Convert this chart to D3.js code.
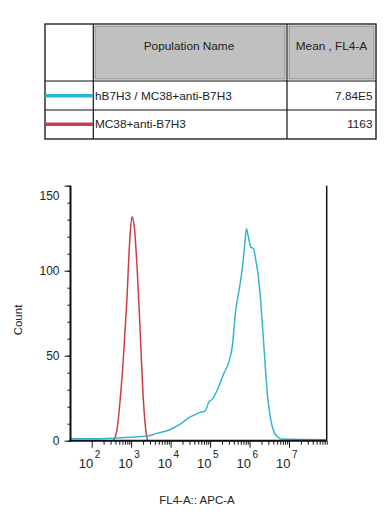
<!DOCTYPE html>
<html><head><meta charset="utf-8">
<script src="https://cdn.jsdelivr.net/npm/d3@7"></script>
<style>body{margin:0;background:#fff;} svg{display:block;font-family:"Liberation Sans",Arial,sans-serif;}</style>
</head><body><svg id="c" width="390" height="528"></svg>
<script>
// ---- data ----
const populations = ["hB7H3 / MC38+anti-B7H3", "MC38+anti-B7H3"];
const meanValues = ["7.84E5", "1163"];
const headerLabels = ["Population Name", "Mean , FL4-A"];

// histogram 1 (cyan): x as decade exponent of FL4-A, y as count
const cyanExp   = [1.46, 2.21, 2.98, 3.40, 3.65, 3.99, 4.25, 4.33, 4.50, 4.59, 4.76, 4.88, 4.97, 5.05, 5.18, 5.35, 5.48, 5.56, 5.65, 5.73, 5.82, 5.88, 5.92, 5.97, 6.03, 6.10, 6.16, 6.21, 6.28, 6.37, 6.45, 6.54, 6.62, 6.71, 6.79, 7.95];
const cyanCount = [1.2, 1.2, 2, 2.8, 4.3, 6.6, 9.9, 11.2, 14, 15, 16.8, 17.6, 22.8, 24.3, 29.7, 39.6, 46.5, 55, 76.7, 88, 102, 116, 124.7, 120, 114, 113, 106, 99, 82.6, 53.5, 27.7, 12, 5.2, 2.4, 1, 0.6];

// histogram 2 (red)
const redExp   = [2.55, 2.64, 2.72, 2.80, 2.89, 2.96, 3.02, 3.08, 3.15, 3.23, 3.31, 3.38, 3.42, 6.80];
const redCount = [0, 6.2, 23.8, 47.5, 82, 116, 131.7, 125.7, 102, 63.4, 23.8, 4.5, 0, 0];

const yMajor = [0, 50, 100, 150];
const yMinor = d3.range(0, 151, 10);
const xMajorExp = [2, 3, 4, 5, 6, 7];

const cyanColor = "#33b6cf", redColor = "#cf3a48";
const legendCyan = "#27b6d9", legendRed = "#c7414b";

// ---- chart ----
(function () {
const svg = d3.select("#c");

// table
const T = {x0: 45, x1: 93.3, x2: 287, x3: 376, y0: 24, y1: 81, y2: 110, y3: 139};
const tg = svg.append("g");
tg.append("rect").attr("x", 95).attr("y", 26).attr("width", 190).attr("height", 53)
  .attr("fill", "#c0c0c0").attr("stroke", "#8a8a8a").attr("stroke-width", 1);
tg.append("rect").attr("x", 289).attr("y", 26).attr("width", 85).attr("height", 53)
  .attr("fill", "#c0c0c0").attr("stroke", "#8a8a8a").attr("stroke-width", 1);
tg.append("rect").attr("x", T.x0).attr("y", T.y0).attr("width", T.x3 - T.x0).attr("height", T.y3 - T.y0)
  .attr("fill", "none").attr("stroke", "#111").attr("stroke-width", 1.3);
[[T.x1, T.y0, T.x1, T.y3], [T.x2, T.y0, T.x2, T.y3], [T.x0, T.y1, T.x3, T.y1], [T.x0, T.y2, T.x3, T.y2]]
  .forEach(l => tg.append("line").attr("x1", l[0]).attr("y1", l[1]).attr("x2", l[2]).attr("y2", l[3])
    .attr("stroke", "#111").attr("stroke-width", 1.2));
tg.append("text").attr("x", 189).attr("y", 50).attr("text-anchor", "middle")
  .attr("font-size", 11.8).attr("fill", "#222").text(headerLabels[0]);
tg.append("text").attr("x", 331.5).attr("y", 50).attr("text-anchor", "middle")
  .attr("font-size", 11.8).attr("fill", "#222").text(headerLabels[1]);
const rowY = [95.7, 124.3];
const legendColors = [legendCyan, legendRed];
populations.forEach((p, i) => {
  tg.append("line").attr("x1", T.x0).attr("x2", T.x1).attr("y1", rowY[i]).attr("y2", rowY[i])
    .attr("stroke", legendColors[i]).attr("stroke-width", 3.5);
  tg.append("text").attr("x", 95).attr("y", rowY[i] + 4).attr("font-size", 11.8).attr("fill", "#222").text(p);
  tg.append("text").attr("x", 372.5).attr("y", rowY[i] + 4).attr("text-anchor", "end")
    .attr("font-size", 11.8).attr("fill", "#222").text(meanValues[i]);
});

// plot
const pL = 70.5, pR = 326.7, pT = 185.7, pB = 440.7;
const x = d3.scaleLog().domain([Math.pow(10, 1.463), Math.pow(10, 7.955)]).range([pL, pR]);
const y = d3.scaleLinear().domain([0, 150]).range([pB, pT]);

const line = d3.line().x(d => x(Math.pow(10, d[0]))).y(d => y(d[1])).curve(d3.curveMonotoneX);
svg.append("path").datum(redExp.map((e, i) => [e, redCount[i]]))
  .attr("d", line).attr("fill", "none").attr("stroke", redColor).attr("stroke-width", 1.5);
svg.append("path").datum(cyanExp.map((e, i) => [e, cyanCount[i]]))
  .attr("d", line).attr("fill", "none").attr("stroke", cyanColor).attr("stroke-width", 1.5);

// y axis
const yMinAx = svg.append("g").attr("transform", `translate(${pL},0)`)
  .call(d3.axisLeft(y).tickValues(yMinor).tickSize(3).tickFormat(""));
const yMajAx = svg.append("g").attr("transform", `translate(${pL},0)`)
  .call(d3.axisLeft(y).tickValues(yMajor).tickSize(6).tickPadding(5).tickFormat(d3.format("d")));
[yMinAx, yMajAx].forEach(g => { g.select(".domain").remove(); g.selectAll("line").attr("stroke", "#111"); });
yMajAx.selectAll("text").attr("font-size", 12).attr("fill", "#222").attr("font-family", '"Liberation Sans",Arial,sans-serif')
  .attr("dy", d => d === 150 ? "1.15em" : "0.32em");

// x axis
const xMinorVals = [];
xMajorExp.forEach(e => d3.range(2, 10).forEach(k => xMinorVals.push(k * Math.pow(10, e))));
const xMinAx = svg.append("g").attr("transform", `translate(0,${pB})`)
  .call(d3.axisBottom(x).tickValues(xMinorVals).tickSize(4).tickFormat(""));
const xMajAx = svg.append("g").attr("transform", `translate(0,${pB})`)
  .call(d3.axisBottom(x).tickValues(xMajorExp.map(e => Math.pow(10, e))).tickSize(7).tickFormat(""));
[xMinAx, xMajAx].forEach(g => { g.select(".domain").remove(); g.selectAll("line").attr("stroke", "#111"); });
xMajorExp.forEach(e => {
  const px = x(Math.pow(10, e));
  svg.append("text").attr("x", px + 1.5).attr("y", 468).attr("text-anchor", "end")
    .attr("font-size", 13).attr("fill", "#222").text("10");
  svg.append("text").attr("x", px + 3).attr("y", 458).attr("font-size", 10).attr("fill", "#222").text(String(e));
});

// axis lines
svg.append("line").attr("x1", pL).attr("x2", pL).attr("y1", pT).attr("y2", pB + 1)
  .attr("stroke", "#111").attr("stroke-width", 2);
svg.append("line").attr("x1", pL - 1).attr("x2", pR).attr("y1", pB).attr("y2", pB)
  .attr("stroke", "#111").attr("stroke-width", 2);
svg.append("line").attr("x1", pR).attr("x2", pR).attr("y1", pT).attr("y2", pB)
  .attr("stroke", "#111").attr("stroke-width", 1.5);

// titles
svg.append("text").attr("transform", `translate(22,320) rotate(-90)`)
  .attr("text-anchor", "middle").attr("font-size", 11.5).attr("fill", "#222").text("Count");
svg.append("text").attr("x", 197).attr("y", 504).attr("text-anchor", "middle")
  .attr("font-size", 11.5).attr("fill", "#222").text("FL4-A:: APC-A");
})();
</script></body></html>
